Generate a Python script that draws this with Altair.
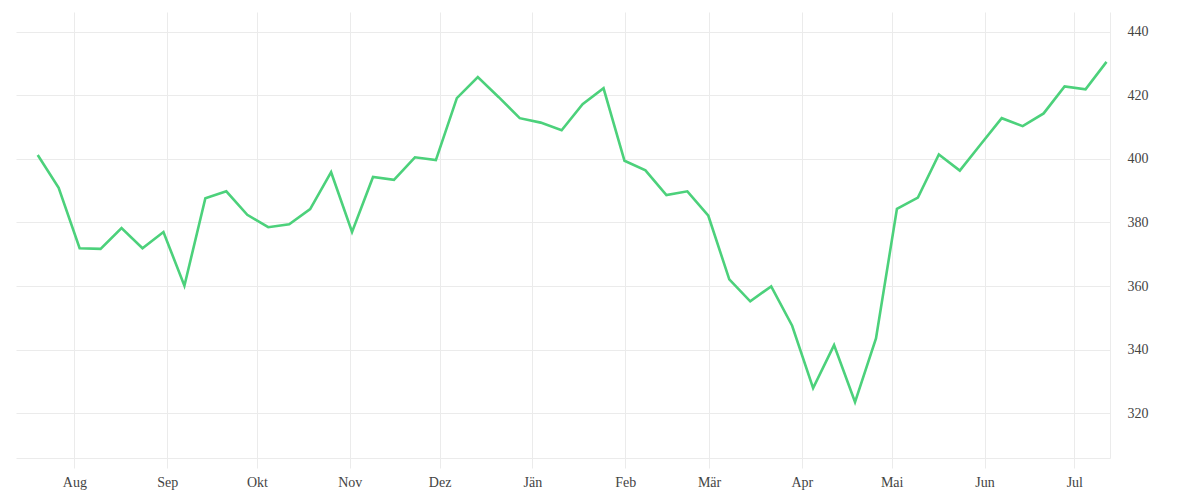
import altair as alt
import pandas as pd

# Weekly values
values = [
    401.2, 390.9, 371.9, 371.7, 378.2, 371.9, 377.0, 360.1, 387.6, 389.8,
    382.4, 378.5, 379.4, 384.2, 395.8, 377.0, 394.3, 393.4, 400.5, 399.6,
    419.1, 425.7, 419.4, 412.8, 411.4, 409.0, 417.2, 422.2, 399.4, 396.4,
    388.6, 389.8, 382.1, 362.1, 355.2, 359.9, 347.5, 327.9, 341.4, 323.5,
    343.5, 384.3, 387.8, 401.4, 396.3, 404.6, 412.8, 410.3, 414.3, 422.8,
    421.9, 430.5,
]
dates = pd.date_range("2022-07-19 18:00", periods=len(values), freq="7D")
month_names = ["Jän", "Feb", "Mär", "Apr", "Mai", "Jun",
               "Jul", "Aug", "Sep", "Okt", "Nov", "Dez"]
y_ticks = [320, 340, 360, 380, 400, 420, 440]

df = pd.DataFrame({"date": dates, "value": values})

grid = "#ebebeb"
font = "Liberation Serif"
label_expr = "[" + ",".join("'%s'" % m for m in month_names) + "][month(datum.value)]"

chart = (
    alt.Chart(df)
    .mark_line(color="#4cd17b", strokeWidth=2.6)
    .encode(
        x=alt.X(
            "date:T",
            scale=alt.Scale(domain=["2022-07-12T12:00:00", "2023-07-12T22:00:00"], nice=False),
            axis=alt.Axis(
                title=None,
                tickCount={"interval": "month", "step": 1},
                labelExpr=label_expr,
                grid=True,
                gridColor=grid,
                domain=True,
                domainColor=grid,
                ticks=True,
                tickColor=grid,
                tickSize=10,
                labelPadding=7,
                labelFont=font,
                labelFontSize=14,
                labelColor="#444444",
            ),
        ),
        y=alt.Y(
            "value:Q",
            scale=alt.Scale(domain=[305.9, 446.2], nice=False, zero=False),
            axis=alt.Axis(
                title=None,
                orient="right",
                values=y_ticks,
                grid=True,
                gridColor=grid,
                domain=True,
                domainColor=grid,
                ticks=False,
                tickSize=0,
                labelPadding=17,
                labelFont=font,
                labelFontSize=14,
                labelColor="#444444",
            ),
        ),
    )
    .properties(
        width=1094,
        height=446,
        background="white",
        padding={"left": 8, "top": 4, "right": 10, "bottom": 5},
    )
    .configure_view(stroke=None)
)

chart.save("out.html", embed_options={"renderer": "svg", "actions": False})
